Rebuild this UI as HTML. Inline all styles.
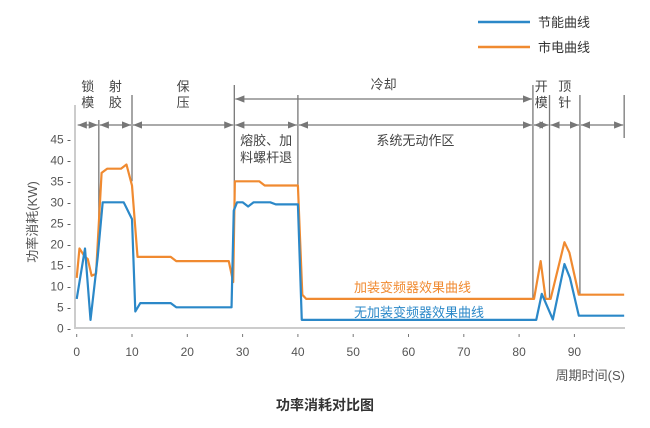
<!DOCTYPE html>
<html><head><meta charset="utf-8"><style>
body{margin:0;background:#fff}
svg{display:block;font-family:"Liberation Sans","Noto Sans CJK SC",sans-serif}
</style></head><body>
<svg id="c" width="650" height="428" viewBox="0 0 650 428">
<defs><marker id="ah" viewBox="0 0 10 10" refX="10" refY="5" markerWidth="7" markerHeight="7" orient="auto-start-reverse"><path d="M0,1L10,5L0,9z" fill="#777"/></marker></defs>
<g>
<line x1="478" y1="22" x2="530" y2="22" stroke="#2b88c8" stroke-width="2.5"/>
<text x="538" y="27" font-size="13" fill="#333">节能曲线</text>
<line x1="478" y1="47" x2="530" y2="47" stroke="#f08a30" stroke-width="2.5"/>
<text x="538" y="52" font-size="13" fill="#333">市电曲线</text>
</g>
<g id="axes"></g>
<g id="ann"></g>
<g id="series"></g>
<text x="354" y="292" font-size="13" fill="#f08a30">加装变频器效果曲线</text>
<text x="354" y="317" font-size="13" fill="#2b88c8">无加装变频器效果曲线</text>
<text x="37" y="222" font-size="13" fill="#555" text-anchor="middle" transform="rotate(-90 37 222)">功率消耗(KW)</text>
<text x="625" y="380" font-size="13" fill="#555" text-anchor="end">周期时间(S)</text>
<text x="325" y="410" font-size="14" fill="#333" text-anchor="middle" font-weight="bold">功率消耗对比图</text>
</svg>
<script>
const xTicks=[0,10,20,30,40,50,60,70,80,90];
const yTicks=[0,5,10,15,20,25,30,35,40,45];
const blueX=[0,1.5,2.5,3.8,4.7,8.5,10,10.6,11.5,17,18,28,28.4,29,30,31,32,35,36,40,40.7,83.1,84.1,86.1,88.2,89.2,90.8,99];
const blueY=[7,19,2,17,30,30,26,4,6,6,5,5,28,30,30,29,30,30,29.5,29.5,2,2,8.2,2.1,15.3,12,3,3];
const orangeX=[0,0.5,1.5,2,2.7,3.5,4.5,5.5,8,9,10,11,17,18,27.5,28.3,28.6,33,34,40,40.8,41.5,82.7,83.9,84.8,85.7,88.2,89.1,90.8,99];
const orangeY=[12,19,17,16.5,12.5,13,37,38,38,39,34,17,17,16,16,11,35,35,34,34,8,7,7,16,7,7,20.5,18,8,8];
const phaseBounds=[0,4,10,28.5,40,82.5,85.5,91,99];
const phaseLabels=[["锁","模"],["射","胶"],["保","压"],["熔胶、加","料螺杆退"],["系统无动作区"],["开","模"],["顶","针"],[]];
const ns="http://www.w3.org/2000/svg";
const X=v=>76.7+v*5.53, Y=v=>328.3-v*4.2;
function mk(p,t,a){const e=document.createElementNS(ns,t);for(const k in a)e.setAttribute(k,a[k]);p.appendChild(e);return e;}
const ax=document.getElementById('axes'),an=document.getElementById('ann'),se=document.getElementById('series');
let l=mk(ax,'line',{x1:75,y1:105,x2:75,y2:329,stroke:'#ccc','stroke-width':2});


l=mk(ax,'line',{x1:75,y1:328,x2:625,y2:328,stroke:'#ccc','stroke-width':2});


xTicks.forEach(v=>{let t=mk(ax,'line',{x1:X(v),y1:334,x2:X(v),y2:337,stroke:'#777'});


let s=mk(ax,'text',{x:X(v),y:356,'font-size':12,fill:'#555','text-anchor':'middle'});s.textContent=v;

});
yTicks.forEach(v=>{let s=mk(ax,'text',{x:71,y:Y(v)+4,'font-size':12,fill:'#555','text-anchor':'end'});s.textContent=v+' -';

});
// phase lines
phaseBounds.forEach((b,i)=>{let top=(b==28.5||b==82.5)?85:(i==0?null:95);if(top===null)return;
let bot=b==99?138:(b==82.5?300:(b==28.5?205:Y(35)));
if(b==4)bot=Y(20);if(b==10)bot=Y(35);if(b==40)bot=Y(34);if(b==85.5)bot=Y(7);if(b==91)bot=Y(8);if(b==4)top=120;
let e=mk(an,'line',{x1:X(b),y1:top,x2:X(b),y2:bot,stroke:'#777','stroke-width':1.3});

});
for(let i=0;i<phaseBounds.length-1;i++){const a=X(phaseBounds[i]),b=X(phaseBounds[i+1]);
let e=mk(an,'line',{x1:a+1,y1:125,x2:b-1,y2:125,stroke:'#777','stroke-width':1.3,'marker-start':'url(#ah)','marker-end':'url(#ah)'});


const lab=phaseLabels[i];if(!lab.length)continue;
const cx=(a+b)/2;const below=(i==3||i==4);
lab.forEach((s,j)=>{let t=mk(an,'text',{x:cx,y:below?(145+j*17):(91+j*16),'font-size':13,fill:'#444','text-anchor':'middle'});t.textContent=s;

});}
l=mk(an,'line',{x1:X(28.5)+1,y1:99,x2:X(82.5)-1,y2:99,stroke:'#777','stroke-width':1.3,'marker-start':'url(#ah)','marker-end':'url(#ah)'});


let ct=mk(an,'text',{x:(X(28.5)+X(82.5))/2,y:89,'font-size':13,fill:'#444','text-anchor':'middle'});ct.textContent='冷却';


function path(xs,ys,c,n){let p=mk(se,'polyline',{points:xs.map((x,i)=>X(x)+','+Y(ys[i])).join(' '),fill:'none',stroke:c,'stroke-width':2.2,'stroke-linejoin':'round'});

}
path(orangeX,orangeY,'#f08a30','mains-power-line');
path(blueX,blueY,'#2b88c8','energy-saving-line');
</script>
</body></html>
